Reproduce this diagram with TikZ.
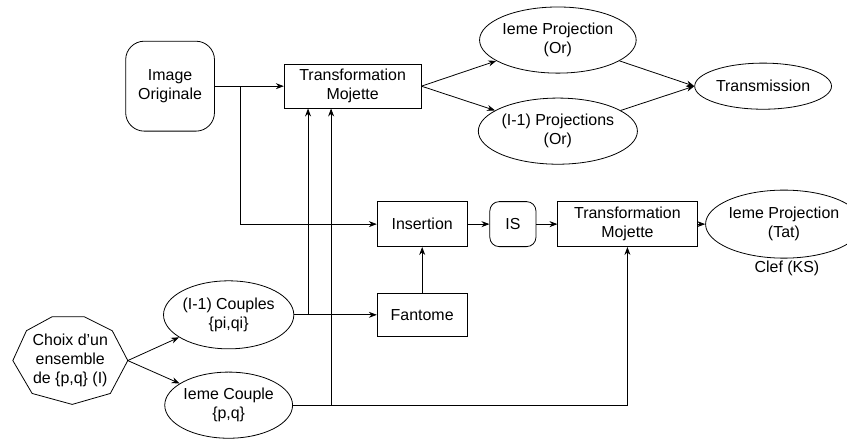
\documentclass[tikz,border=0pt]{standalone}
\usepackage{fontspec}
\setmainfont{Liberation Sans}
\usetikzlibrary{arrows.meta,shapes.geometric}
\tikzset{
  box/.style={draw,rectangle,inner sep=0pt},
  rbox/.style={draw,rectangle,rounded corners=7pt,inner sep=0pt},
  ell/.style={draw,ellipse,inner sep=0pt,minimum width=3.62cm},
}
\begin{document}
\begin{tikzpicture}[>={Stealth[length=6pt,width=4.5pt]}, line width=0.6pt,
    every node/.style={font=\fontsize{12}{14.5}\selectfont, align=center}]
    \useasboundingbox (0,0) rectangle (22.41,11.64);
    % chaine de transmission
    \node[rbox,rounded corners=14pt,minimum width=2.35cm,minimum height=2.38cm] (img) at (4.50,9.36) {Image\\Originale};
    \node[box,minimum width=3.62cm,minimum height=1.16cm] (tm1) at (9.33,9.36) {Transformation\\Mojette};
    \node[ell,minimum height=1.75cm] (projor) at (14.76,10.58) {Ieme Projection\\(Or)};
    \node[ell,minimum height=1.75cm] (projsor) at (14.76,8.17) {(I-1) Projections\\(Or)};
    \node[ell,minimum height=1.22cm] (trans) at (20.19,9.36) {Transmission};
    % chaine de la clef
    \node[box,minimum width=2.38cm,minimum height=1.19cm] (ins) at (11.17,5.71) {Insertion};
    \node[rbox,minimum width=1.22cm,minimum height=1.19cm] (is) at (13.57,5.71) {IS};
    \node[box,minimum width=3.68cm,minimum height=1.19cm] (tm2) at (16.60,5.71) {Transformation\\Mojette};
    \node[ell,minimum width=3.55cm,minimum height=1.80cm] (projtat) at (20.74,5.71) {Ieme Projection\\(Tat)};
    \node (clef) at (20.82,4.55) {Clef (KS)};
    \node[box,minimum width=2.38cm,minimum height=1.16cm] (fant) at (11.17,3.31) {Fantome};
    % choix des couples
    \node[ell,minimum width=2.99cm,minimum height=1.80cm] (couples) at (6.05,3.31) {(I-1) Couples\\\{pi,qi\}};
    \node[ell,minimum width=2.99cm,minimum height=1.75cm] (couple) at (6.05,0.92) {Ieme Couple\\\{p,q\}};
    \node[inner sep=0pt,minimum width=3.02cm,minimum height=2.32cm] (choix) at (1.86,2.10) {Choix d'un\\ensemble\\de \{p,q\} (I)};
    \draw ([shift={(-0.48,1.16)}]choix.center) -- ([shift={(0.37,1.16)}]choix.center)
      -- ([shift={(1.11,0.79)}]choix.center) -- (choix.east)
      -- ([shift={(1.06,-0.87)}]choix.center) -- ([shift={(0.05,-1.16)}]choix.center)
      -- ([shift={(-1.01,-0.87)}]choix.center) -- (choix.west)
      -- ([shift={(-1.16,0.79)}]choix.center) -- cycle;
    \coordinate (b1) at (6.35,9.36);
    \coordinate (b2) at (8.15,3.31);
    \coordinate (b3) at (8.76,0.92);
    \draw[->] (img)--(tm1);
    \draw[->] (b1)|-(ins);
    \draw[->] (tm1.east)--(projor);
    \draw[->] (tm1.east)--(projsor);
    \draw[->] (projor)--(trans.west);
    \draw[->] (projsor)--(trans.west);
    \draw[->] (choix.east)--(couples);
    \draw[->] (choix.east)--(couple);
    \draw[->] (couples)--(fant);
    \draw[->] (b2)--(b2 |- tm1.south);
    \draw[->] (b3)--(b3 |- tm1.south);
    \draw[->] (couple.east)-|(tm2.south);
    \draw[->] (fant)--(ins);
    \draw[->] (ins)--(is);
    \draw[->] (is)--(tm2);
    \draw[->] (tm2)--(projtat);
\end{tikzpicture}
\end{document}
